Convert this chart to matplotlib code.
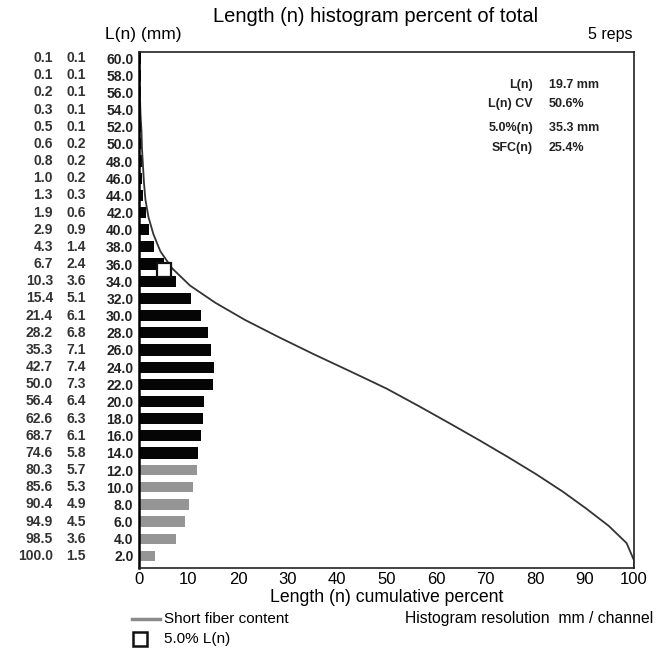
import matplotlib
matplotlib.use("Agg")
import matplotlib.pyplot as plt
import matplotlib.transforms as mtransforms
from matplotlib.lines import Line2D

plt.rcParams['font.family'] = ['Liberation Sans', 'DejaVu Sans']

# ---- data ----
lengths = [60.0, 58.0, 56.0, 54.0, 52.0, 50.0, 48.0, 46.0, 44.0, 42.0, 40.0, 38.0, 36.0, 34.0, 32.0,
           30.0, 28.0, 26.0, 24.0, 22.0, 20.0, 18.0, 16.0, 14.0, 12.0, 10.0, 8.0, 6.0, 4.0, 2.0]
cum_pct = [0.1, 0.1, 0.2, 0.3, 0.5, 0.6, 0.8, 1.0, 1.3, 1.9, 2.9, 4.3, 6.7, 10.3, 15.4,
           21.4, 28.2, 35.3, 42.7, 50.0, 56.4, 62.6, 68.7, 74.6, 80.3, 85.6, 90.4, 94.9, 98.5, 100.0]
hist_pct = [0.1, 0.1, 0.1, 0.1, 0.1, 0.2, 0.2, 0.2, 0.3, 0.6, 0.9, 1.4, 2.4, 3.6, 5.1,
            6.1, 6.8, 7.1, 7.4, 7.3, 6.4, 6.3, 6.1, 5.8, 5.7, 5.3, 4.9, 4.5, 3.6, 1.5]
short_fiber_max = 12.0
hist_scale = 2.0
x_ticks = [0, 10, 20, 30, 40, 50, 60, 70, 80, 90, 100]
five_pct_point = (5.0, 35.3)
stat_labels = ["L(n)", "L(n) CV", "5.0%(n)", "SFC(n)"]
stat_values = ["19.7 mm", "50.6%", "35.3 mm", "25.4%"]

W, H = 667, 649
fig = plt.figure(figsize=(W / 100, H / 100), dpi=100)
ax = fig.add_axes([139 / W, 1 - 568 / H, (634 - 139) / W, (568 - 52) / H])
ylo, yhi = 0.6, 60.7
ax.set_xlim(0, 100)
ax.set_ylim(ylo, yhi)

# bars
for L, h in zip(lengths, hist_pct):
    if L <= short_fiber_max:
        ax.barh(L, h * hist_scale, height=1.2, color='#959595', edgecolor='none', left=0.3)
    else:
        ax.barh(L, h * hist_scale, height=1.3, color='#050505', edgecolor='none', left=0.3)

# cumulative curve (drawn at the channel's lower half-step)
cx = [0.0] + cum_pct + [100.0]
cy = [yhi] + [L - 0.5 for L in lengths] + [ylo]
ax.plot(cx, cy, color='#333333', lw=1.3, solid_joinstyle='round', solid_capstyle='round')

# 5% marker
ax.plot([five_pct_point[0]], [five_pct_point[1]], marker='s', ms=10, mfc='white',
        mec='#111111', mew=1.6, ls='none', zorder=5)

# axes styling
ax.set_xticks(x_ticks)
ax.set_xticklabels([str(t) for t in x_ticks], fontsize=12)
ax.set_yticks(lengths)
ax.set_yticklabels([f"{v:.1f}" for v in lengths], fontsize=10, fontweight='bold', color='#222222')
ax.tick_params(axis='both', length=0, pad=4)
ax.tick_params(axis='x', pad=3)
for s in ax.spines.values():
    s.set_color('#222222')
    s.set_linewidth(1.2)
ax.spines['left'].set_linewidth(1.8)
ax.spines['left'].set_color('#000000')
ax.set_xlabel("Length (n) cumulative percent", fontsize=12.7, labelpad=1)

# left columns
trans = mtransforms.blended_transform_factory(fig.transFigure, ax.transData)
for L, c, h in zip(lengths, cum_pct, hist_pct):
    ax.text(53 / W, L, f"{c:.1f}", transform=trans, ha='right', va='center',
            fontsize=10, fontweight='bold', color='#333333')
    ax.text(86 / W, L, f"{h:.1f}", transform=trans, ha='right', va='center',
            fontsize=10, fontweight='bold', color='#333333')

# titles
fig.text(376 / W, 1 - 17 / H, "Length (n) histogram percent of total", ha='center', va='center', fontsize=14.5)
fig.text(105 / W, 1 - 35 / H, "L(n) (mm)", ha='left', va='center', fontsize=12.5)
fig.text(633 / W, 1 - 35 / H, "5 reps", ha='right', va='center', fontsize=11.5)

# stats
stat_y = [85, 104, 128, 148]
for lab, val, y in zip(stat_labels, stat_values, stat_y):
    fig.text(533 / W, 1 - y / H, lab, ha='right', va='center', fontsize=9, fontweight='bold', color='#222222')
    fig.text(549 / W, 1 - y / H, val, ha='left', va='center', fontsize=9, fontweight='bold', color='#222222')

# legend area
fig.add_artist(Line2D([132 / W, 160 / W], [1 - 619 / H, 1 - 619 / H], color='#8a8a8a', lw=2.5))
fig.text(164 / W, 1 - 619 / H, "Short fiber content", ha='left', va='center', fontsize=11)
fig.add_artist(Line2D([140 / W], [1 - 639 / H], marker='s', ms=10, mfc='white', mec='#111111', mew=1.8))
fig.text(164 / W, 1 - 639 / H, "5.0% L(n)", ha='left', va='center', fontsize=11)
fig.text(653 / W, 1 - 619 / H, "Histogram resolution  mm / channel", ha='right', va='center', fontsize=11.3)

fig.savefig("out.png", dpi=100)
